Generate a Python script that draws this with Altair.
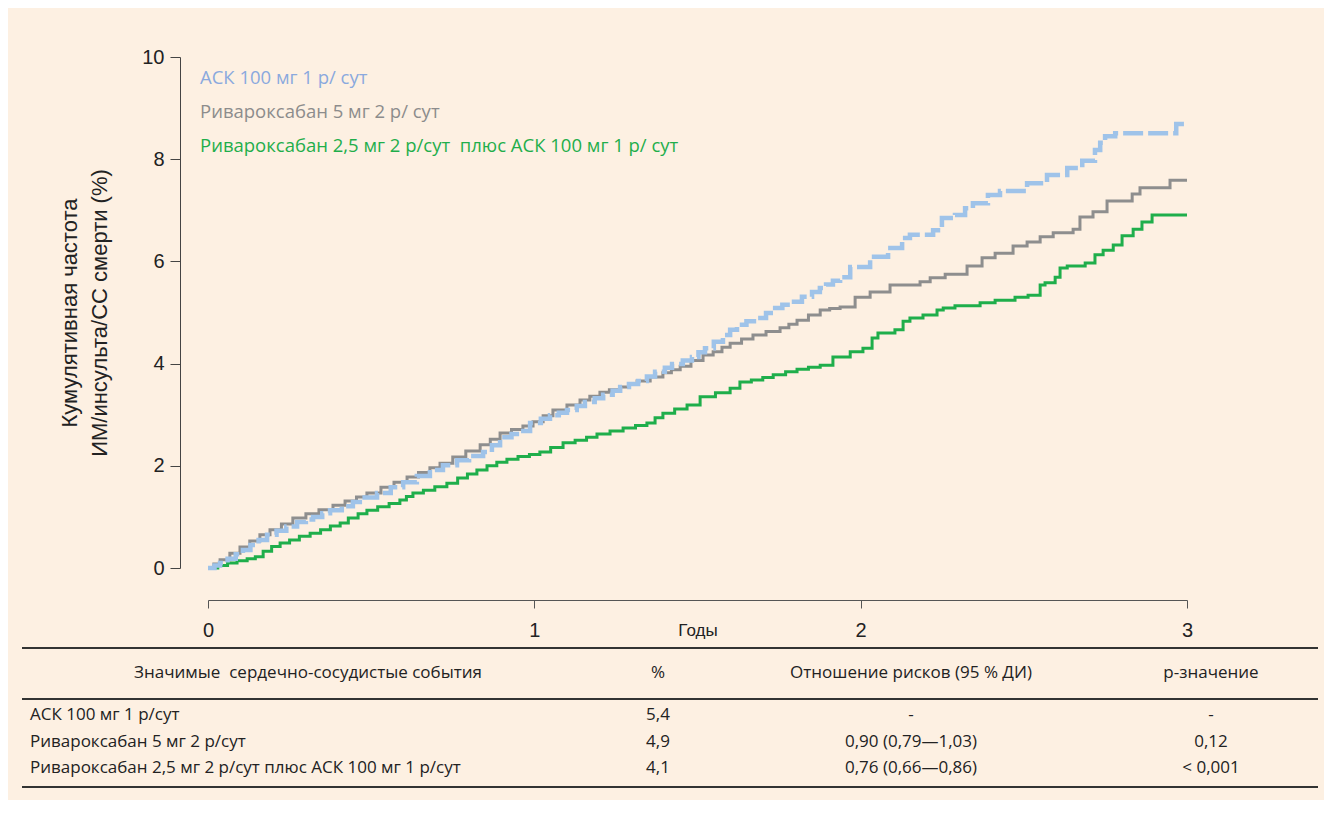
import altair as alt
import pandas as pd

# ---- curve data (years, cumulative incidence %) ----
asa_t = [0.0, 0.02, 0.037, 0.06, 0.085, 0.107, 0.13, 0.155, 0.181, 0.21, 0.24, 0.273, 0.30, 0.322,
         0.35, 0.374, 0.41, 0.444, 0.48, 0.518, 0.56, 0.598, 0.64, 0.680, 0.72, 0.763, 0.80, 0.843,
         0.87, 0.895, 0.93, 0.956, 0.987, 1.02, 1.048, 1.075, 1.100, 1.13, 1.155, 1.185, 1.211, 1.24,
         1.263, 1.29, 1.318, 1.345, 1.370, 1.40, 1.422, 1.455, 1.483, 1.503, 1.523, 1.55, 1.578, 1.60,
         1.621, 1.65, 1.683, 1.71, 1.738, 1.76, 1.784, 1.82, 1.851, 1.875, 1.894, 1.915, 1.937, 1.968,
         2.029, 2.084, 2.127, 2.151, 2.222, 2.249, 2.289, 2.320, 2.344, 2.390, 2.427, 2.510, 2.571,
         2.633, 2.679, 2.718, 2.734, 2.749, 2.780, 2.967, 3.0]
asa_v = [0.0, 0.05, 0.10, 0.18, 0.27, 0.35, 0.45, 0.55, 0.65, 0.73, 0.81, 0.90, 0.95, 1.00,
         1.07, 1.13, 1.21, 1.29, 1.38, 1.47, 1.58, 1.68, 1.80, 1.92, 2.01, 2.11, 2.19, 2.27,
         2.40, 2.56, 2.62, 2.68, 2.84, 2.92, 2.99, 3.04, 3.09, 3.17, 3.25, 3.32, 3.39, 3.47,
         3.54, 3.60, 3.66, 3.75, 3.84, 3.92, 3.99, 4.06, 4.13, 4.22, 4.30, 4.43, 4.56, 4.66,
         4.76, 4.83, 4.89, 4.99, 5.09, 5.15, 5.21, 5.31, 5.40, 5.48, 5.55, 5.62, 5.69, 5.89,
         6.09, 6.26, 6.46, 6.52, 6.61, 6.85, 6.91, 7.04, 7.14, 7.30, 7.38, 7.53, 7.69,
         7.83, 7.97, 8.18, 8.32, 8.45, 8.51, 8.69, 8.69]

riv5_t = [0.0, 0.018, 0.037, 0.067, 0.098, 0.128, 0.159, 0.19, 0.225, 0.260, 0.30, 0.34, 0.383, 0.42,
          0.455, 0.487, 0.53, 0.57, 0.610, 0.645, 0.68, 0.711, 0.75, 0.79, 0.834, 0.865, 0.895, 0.93,
          0.965, 0.996, 1.027, 1.057, 1.10, 1.140, 1.17, 1.201, 1.23, 1.263, 1.29, 1.315, 1.355, 1.394,
          1.42, 1.447, 1.48, 1.517, 1.548, 1.575, 1.600, 1.635, 1.670, 1.71, 1.753, 1.78, 1.805, 1.84,
          1.876, 1.905, 1.937, 1.983, 2.029, 2.090, 2.182, 2.213, 2.259, 2.326, 2.372, 2.412, 2.467,
          2.510, 2.550, 2.590, 2.651, 2.672, 2.712, 2.755, 2.832, 2.856, 2.948, 3.0]
riv5_v = [0.0, 0.08, 0.16, 0.29, 0.41, 0.53, 0.65, 0.75, 0.86, 0.98, 1.06, 1.14, 1.23, 1.31,
          1.39, 1.47, 1.58, 1.68, 1.78, 1.87, 1.96, 2.05, 2.17, 2.29, 2.41, 2.52, 2.64, 2.71,
          2.78, 2.86, 2.98, 3.09, 3.19, 3.29, 3.36, 3.44, 3.49, 3.54, 3.60, 3.66, 3.74, 3.82,
          3.88, 3.95, 4.06, 4.17, 4.23, 4.32, 4.40, 4.48, 4.56, 4.63, 4.70, 4.77, 4.85, 4.95,
          5.05, 5.08, 5.11, 5.30, 5.40, 5.54, 5.60, 5.68, 5.75, 5.91, 6.07, 6.16, 6.30,
          6.38, 6.48, 6.56, 6.63, 6.87, 6.97, 7.18, 7.32, 7.44, 7.59, 7.59]

combo_t = [0.0, 0.03, 0.06, 0.089, 0.12, 0.145, 0.169, 0.195, 0.221, 0.25, 0.28, 0.313, 0.345, 0.375,
           0.405, 0.43, 0.46, 0.487, 0.52, 0.555, 0.588, 0.608, 0.628, 0.66, 0.695, 0.732, 0.765, 0.795,
           0.824, 0.855, 0.885, 0.916, 0.95, 0.985, 1.017, 1.05, 1.088, 1.125, 1.16, 1.192, 1.232, 1.272,
           1.31, 1.345, 1.37, 1.394, 1.43, 1.468, 1.508, 1.555, 1.600, 1.630, 1.665, 1.70, 1.732, 1.77,
           1.805, 1.84, 1.876, 1.915, 1.968, 2.007, 2.035, 2.053, 2.105, 2.130, 2.151, 2.191, 2.234,
           2.253, 2.289, 2.366, 2.412, 2.473, 2.513, 2.550, 2.565, 2.596, 2.611, 2.633, 2.688, 2.718,
           2.743, 2.774, 2.801, 2.835, 2.862, 2.893, 3.0]
combo_v = [0.0, 0.05, 0.10, 0.14, 0.18, 0.22, 0.33, 0.42, 0.49, 0.55, 0.62, 0.68, 0.75, 0.82,
           0.88, 0.98, 1.06, 1.13, 1.20, 1.26, 1.33, 1.40, 1.47, 1.52, 1.59, 1.66, 1.76, 1.84,
           1.92, 2.00, 2.07, 2.13, 2.18, 2.22, 2.27, 2.36, 2.45, 2.50, 2.56, 2.62, 2.68, 2.74,
           2.79, 2.84, 2.94, 3.03, 3.11, 3.19, 3.35, 3.43, 3.52, 3.64, 3.68, 3.73, 3.78, 3.84,
           3.89, 3.93, 3.97, 4.13, 4.23, 4.30, 4.50, 4.60, 4.66, 4.83, 4.89, 4.95, 5.05,
           5.09, 5.13, 5.19, 5.24, 5.30, 5.34, 5.54, 5.58, 5.69, 5.87, 5.91, 5.97, 6.13,
           6.22, 6.32, 6.50, 6.63, 6.77, 6.91, 6.91]

legend_labels = ["АСК 100 мг 1 р/ сут",
                 "Ривароксабан 5 мг 2 р/ сут",
                 "Ривароксабан 2,5 мг 2 р/сут\u00a0 плюс АСК 100 мг 1 р/ сут"]

x_ticks = [0, 1, 2, 3]
y_ticks = [0, 2, 4, 6, 8, 10]

# ---- table ----
table_header = ["Значимые\u00a0 сердечно-сосудистые события", "%", "Отношение рисков (95 % ДИ)", "р-значение"]
row_names = ["АСК 100 мг 1 р/сут", "Ривароксабан 5 мг 2 р/сут",
             "Ривароксабан 2,5 мг 2 р/сут плюс АСК 100 мг 1 р/сут"]
row_pct = ["5,4", "4,9", "4,1"]
row_hr = ["-", "0,90 (0,79—1,03)", "0,76 (0,66—0,86)"]
row_p = ["-", "0,12", "< 0,001"]

BG = "#fdf0e2"
C_ASA, C_RIV, C_COMBO = "#9fc3e9", "#8e8e8e", "#1fae4b"
T_ASA, T_RIV, T_COMBO = "#8aa9de", "#8c8c8c", "#1fae4b"
SANS = "Open Sans"
AX = "Liberation Sans"

W, H = 979, 511

xscale = alt.Scale(domain=[0, 3], nice=False)
yscale = alt.Scale(domain=[0, 10], nice=False)

xaxis = alt.Axis(values=x_ticks, offset=32, tickSize=8, labelPadding=12, labelFontSize=20, labelFont=AX,
                 labelColor="#222", domainColor="#555", tickColor="#555", grid=False, format="d",
                 title="Годы", titleFont=AX, titleFontSize=17, titleFontWeight="normal", titleColor="#222",
                 titleY=30, titleBaseline="middle", labelFlush=False)
yaxis = alt.Axis(values=y_ticks, offset=28, tickSize=10, labelPadding=6, labelFontSize=20, labelFont=AX,
                 labelColor="#222", domainColor="#444", tickColor="#444", grid=False, format="d",
                 title=["Кумулятивная частота", "ИМ/инсульта/СС смерти (%)"], titleFont=AX,
                 titleFontSize=22, titleFontWeight="normal", titleColor="#222", titlePadding=30,
                 titleLineHeight=30)


def series(t, v):
    return pd.DataFrame({"t": t, "v": v})


green = alt.Chart(series(combo_t, combo_v)).mark_line(
    interpolate="step-after", color=C_COMBO, strokeWidth=3).encode(
    x=alt.X("t:Q", scale=xscale, axis=xaxis),
    y=alt.Y("v:Q", scale=yscale, axis=yaxis))
gray = alt.Chart(series(riv5_t, riv5_v)).mark_line(
    interpolate="step-after", color=C_RIV, strokeWidth=3).encode(
    x=alt.X("t:Q", scale=xscale), y=alt.Y("v:Q", scale=yscale))
blue = alt.Chart(series(asa_t, asa_v)).mark_line(
    interpolate="step-after", color=C_ASA, strokeWidth=4.5, strokeDash=[20, 5]).encode(
    x=alt.X("t:Q", scale=xscale), y=alt.Y("v:Q", scale=yscale))

dummy = pd.DataFrame({"k": [0]})
layers = [green, gray, blue]

# legend text
for i, (lab, col) in enumerate(zip(legend_labels, [T_ASA, T_RIV, T_COMBO])):
    layers.append(alt.Chart(dummy).mark_text(align="left", baseline="middle", font=SANS, fontSize=18.5,
                                             color=col).encode(
        x=alt.value(-8), y=alt.value(21 + 34 * i), text=alt.value(lab)))

# table rules
for yy in [591, 642, 730]:
    layers.append(alt.Chart(dummy).mark_rule(color="#333", strokeWidth=1.8).encode(
        x=alt.value(-186), x2=alt.value(1110), y=alt.value(yy)))

# table header
for txt, xx in zip(table_header, [100, 450, 703, 1003]):
    layers.append(alt.Chart(dummy).mark_text(align="center", baseline="middle", font=SANS, fontSize=17,
                                             color="#222").encode(
        x=alt.value(xx), y=alt.value(616), text=alt.value(txt)))

row_y = [658, 685, 711]
for r in range(3):
    layers.append(alt.Chart(dummy).mark_text(align="left", baseline="middle", font=SANS, fontSize=17,
                                             color="#222").encode(
        x=alt.value(-178), y=alt.value(row_y[r]), text=alt.value(row_names[r])))
    for vals, xx in [(row_pct, 450), (row_hr, 703), (row_p, 1003)]:
        layers.append(alt.Chart(dummy).mark_text(align="center", baseline="middle", font=SANS, fontSize=17,
                                                 color="#222").encode(
            x=alt.value(xx), y=alt.value(row_y[r]), text=alt.value(vals[r])))

chart = alt.layer(*layers).properties(
    width=W, height=H, background=BG,
    padding={"left": 200, "top": 49, "right": 137, "bottom": 232},
    autosize=alt.AutoSizeParams(type="none"),
).configure_view(stroke=None)

chart.save("out.html", embed_options={"renderer": "svg", "actions": False})
